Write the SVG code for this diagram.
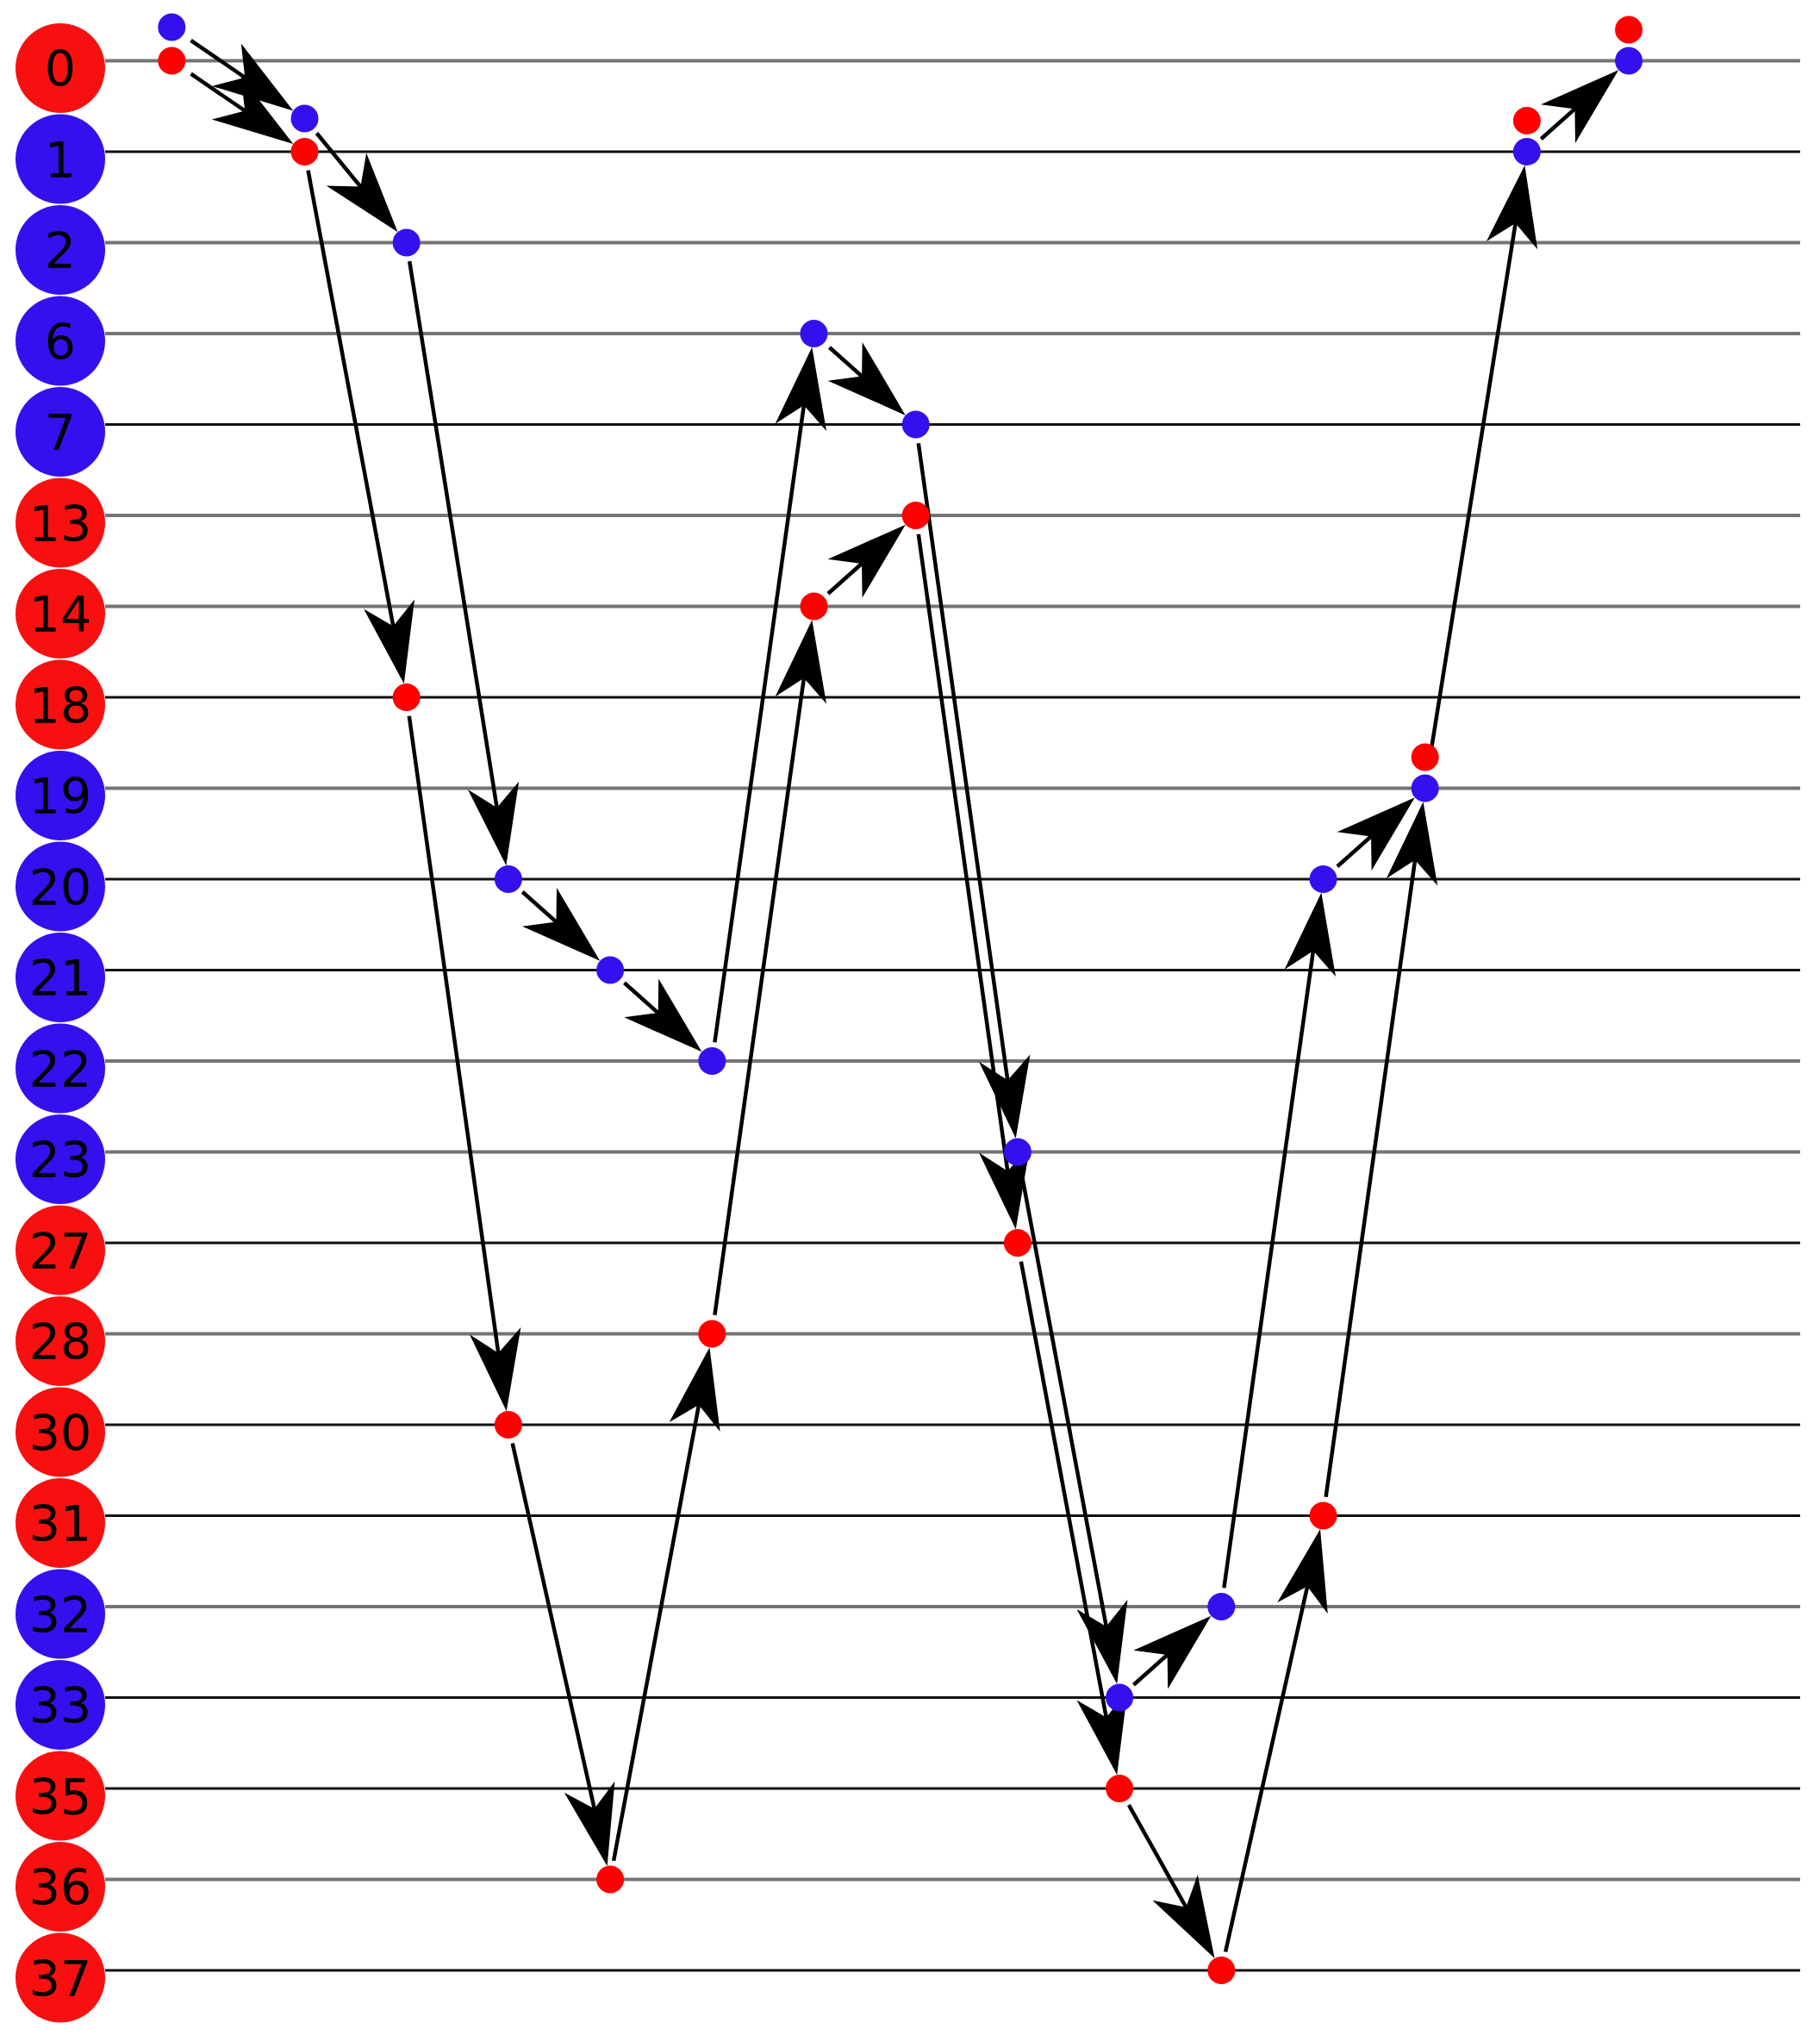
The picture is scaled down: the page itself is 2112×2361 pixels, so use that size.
<svg xmlns="http://www.w3.org/2000/svg" width="2112" height="2361" viewBox="0 0 2112 2361">
<style>
.bg{fill:#fff}
.rl{fill:none}
.g{stroke:#747474;stroke-width:4}
.k{stroke:#111;stroke-width:3}
.lr{fill:#f81010}
.lb{fill:#3510ee}
.lt{font-family:"DejaVu Sans","Liberation Sans",sans-serif;font-size:57px;fill:#000;text-anchor:middle}
.db{fill:#3311ee}
.dr{fill:#ff0000}
.c{stroke:#000;stroke-width:4.5;fill:none;marker-end:url(#ah)}
</style>
<defs>
<marker id="ah" markerUnits="userSpaceOnUse" viewBox="-75 -32 104 64" markerWidth="104" markerHeight="64" refX="0" refY="0" orient="auto">
<path d="M24,0 L-70,-30 L-44,0 L-70,30 Z" fill="#000"/>
</marker>
</defs>
<rect class="bg" x="0" y="0" width="2112" height="2361"/>
<g id="rows">
<line class="rl g" x1="122" y1="70.5" x2="2089" y2="70.5"/>
<line class="rl k" x1="122" y1="176" x2="2089" y2="176"/>
<line class="rl g" x1="122" y1="281.5" x2="2089" y2="281.5"/>
<line class="rl g" x1="122" y1="387" x2="2089" y2="387"/>
<line class="rl k" x1="122" y1="492.5" x2="2089" y2="492.5"/>
<line class="rl g" x1="122" y1="598" x2="2089" y2="598"/>
<line class="rl g" x1="122" y1="703.5" x2="2089" y2="703.5"/>
<line class="rl k" x1="122" y1="809" x2="2089" y2="809"/>
<line class="rl g" x1="122" y1="914.5" x2="2089" y2="914.5"/>
<line class="rl k" x1="122" y1="1020" x2="2089" y2="1020"/>
<line class="rl k" x1="122" y1="1125.5" x2="2089" y2="1125.5"/>
<line class="rl g" x1="122" y1="1231" x2="2089" y2="1231"/>
<line class="rl g" x1="122" y1="1336.5" x2="2089" y2="1336.5"/>
<line class="rl k" x1="122" y1="1442" x2="2089" y2="1442"/>
<line class="rl g" x1="122" y1="1547.5" x2="2089" y2="1547.5"/>
<line class="rl k" x1="122" y1="1653" x2="2089" y2="1653"/>
<line class="rl k" x1="122" y1="1758.5" x2="2089" y2="1758.5"/>
<line class="rl g" x1="122" y1="1864" x2="2089" y2="1864"/>
<line class="rl k" x1="122" y1="1969.5" x2="2089" y2="1969.5"/>
<line class="rl k" x1="122" y1="2075" x2="2089" y2="2075"/>
<line class="rl g" x1="122" y1="2180.5" x2="2089" y2="2180.5"/>
<line class="rl k" x1="122" y1="2286" x2="2089" y2="2286"/>
</g>
<g id="labels">
<g id="label-0"><circle class="lr" cx="70" cy="79" r="52"/><text class="lt" x="70" y="100">0</text></g>
<g id="label-1"><circle class="lb" cx="70" cy="184.5" r="52"/><text class="lt" x="70" y="205.5">1</text></g>
<g id="label-2"><circle class="lb" cx="70" cy="290" r="52"/><text class="lt" x="70" y="311">2</text></g>
<g id="label-6"><circle class="lb" cx="70" cy="395.5" r="52"/><text class="lt" x="70" y="416.5">6</text></g>
<g id="label-7"><circle class="lb" cx="70" cy="501" r="52"/><text class="lt" x="70" y="522">7</text></g>
<g id="label-13"><circle class="lr" cx="70" cy="606.5" r="52"/><text class="lt" x="70" y="627.5">13</text></g>
<g id="label-14"><circle class="lr" cx="70" cy="712" r="52"/><text class="lt" x="70" y="733">14</text></g>
<g id="label-18"><circle class="lr" cx="70" cy="817.5" r="52"/><text class="lt" x="70" y="838.5">18</text></g>
<g id="label-19"><circle class="lb" cx="70" cy="923" r="52"/><text class="lt" x="70" y="944">19</text></g>
<g id="label-20"><circle class="lb" cx="70" cy="1028.5" r="52"/><text class="lt" x="70" y="1049.5">20</text></g>
<g id="label-21"><circle class="lb" cx="70" cy="1134" r="52"/><text class="lt" x="70" y="1155">21</text></g>
<g id="label-22"><circle class="lb" cx="70" cy="1239.5" r="52"/><text class="lt" x="70" y="1260.5">22</text></g>
<g id="label-23"><circle class="lb" cx="70" cy="1345" r="52"/><text class="lt" x="70" y="1366">23</text></g>
<g id="label-27"><circle class="lr" cx="70" cy="1450.5" r="52"/><text class="lt" x="70" y="1471.5">27</text></g>
<g id="label-28"><circle class="lr" cx="70" cy="1556" r="52"/><text class="lt" x="70" y="1577">28</text></g>
<g id="label-30"><circle class="lr" cx="70" cy="1661.5" r="52"/><text class="lt" x="70" y="1682.5">30</text></g>
<g id="label-31"><circle class="lr" cx="70" cy="1767" r="52"/><text class="lt" x="70" y="1788">31</text></g>
<g id="label-32"><circle class="lb" cx="70" cy="1872.5" r="52"/><text class="lt" x="70" y="1893.5">32</text></g>
<g id="label-33"><circle class="lb" cx="70" cy="1978" r="52"/><text class="lt" x="70" y="1999">33</text></g>
<g id="label-35"><circle class="lr" cx="70" cy="2083.5" r="52"/><text class="lt" x="70" y="2104.5">35</text></g>
<g id="label-36"><circle class="lr" cx="70" cy="2189" r="52"/><text class="lt" x="70" y="2210">36</text></g>
<g id="label-37"><circle class="lr" cx="70" cy="2294.5" r="52"/><text class="lt" x="70" y="2315.5">37</text></g>
</g>
<g id="connectors">
<line class="c" x1="221.5" y1="46.8" x2="320.5" y2="114.8"/>
<line class="c" x1="367.5" y1="154.5" x2="446.3" y2="250.6"/>
<line class="c" x1="475.2" y1="303.2" x2="583.6" y2="980.5"/>
<line class="c" x1="606.3" y1="1034.7" x2="678.3" y2="1098.9"/>
<line class="c" x1="724.5" y1="1140.2" x2="796.5" y2="1204.4"/>
<line class="c" x1="829.4" y1="1209.2" x2="939.0" y2="426.6"/>
<line class="c" x1="962.5" y1="403.0" x2="1032.9" y2="465.9"/>
<line class="c" x1="1065.8" y1="514.3" x2="1175.4" y2="1296.9"/>
<line class="c" x1="1184.9" y1="1358.1" x2="1291.8" y2="1930.2"/>
<line class="c" x1="1315.5" y1="1954.8" x2="1387.5" y2="1890.6"/>
<line class="c" x1="1420.4" y1="1842.2" x2="1530.0" y2="1059.6"/>
<line class="c" x1="1551.9" y1="1005.3" x2="1623.9" y2="941.1"/>
<line class="c" x1="1657.2" y1="892.8" x2="1765.6" y2="215.5"/>
<line class="c" x1="1788.3" y1="161.3" x2="1860.3" y2="97.1"/>
<line class="c" x1="221.6" y1="85.7" x2="320.5" y2="153.4"/>
<line class="c" x1="357.5" y1="197.6" x2="464.4" y2="769.7"/>
<line class="c" x1="474.8" y1="830.8" x2="584.4" y2="1613.4"/>
<line class="c" x1="594.7" y1="1674.5" x2="699.4" y2="2141.5"/>
<line class="c" x1="712.1" y1="2158.9" x2="819.0" y2="1586.8"/>
<line class="c" x1="829.4" y1="1525.7" x2="939.0" y2="743.1"/>
<line class="c" x1="960.9" y1="688.8" x2="1032.9" y2="624.6"/>
<line class="c" x1="1065.8" y1="619.8" x2="1175.4" y2="1402.4"/>
<line class="c" x1="1184.9" y1="1463.6" x2="1291.8" y2="2035.7"/>
<line class="c" x1="1309.9" y1="2094.2" x2="1397.8" y2="2251.1"/>
<line class="c" x1="1422.1" y1="2264.5" x2="1526.8" y2="1797.5"/>
<line class="c" x1="1538.6" y1="1736.7" x2="1648.2" y2="954.1"/>
</g>
<g id="dots">
<g id="b0"><circle class="db" cx="199.3" cy="31.5" r="16"/></g>
<g id="b1"><circle class="db" cx="353.5" cy="137.5" r="16"/></g>
<g id="b2"><circle class="db" cx="471.7" cy="281.5" r="16"/></g>
<g id="b3"><circle class="db" cx="589.9" cy="1020" r="16"/></g>
<g id="b4"><circle class="db" cx="708.1" cy="1125.5" r="16"/></g>
<g id="b5"><circle class="db" cx="826.3" cy="1231" r="16"/></g>
<g id="b6"><circle class="db" cx="944.5" cy="387" r="16"/></g>
<g id="b7"><circle class="db" cx="1062.7" cy="492.5" r="16"/></g>
<g id="b8"><circle class="db" cx="1180.9" cy="1336.5" r="16"/></g>
<g id="b9"><circle class="db" cx="1299.1" cy="1969.5" r="16"/></g>
<g id="b10"><circle class="db" cx="1417.3" cy="1864" r="16"/></g>
<g id="b11"><circle class="db" cx="1535.5" cy="1020" r="16"/></g>
<g id="b12"><circle class="db" cx="1653.7" cy="914.5" r="16"/></g>
<g id="b13"><circle class="db" cx="1771.9" cy="176" r="16"/></g>
<g id="b14"><circle class="db" cx="1890.1" cy="70.5" r="16"/></g>
<g id="r0"><circle class="dr" cx="199.3" cy="70.5" r="16"/></g>
<g id="r1"><circle class="dr" cx="353.5" cy="176" r="16"/></g>
<g id="r2"><circle class="dr" cx="471.7" cy="809" r="16"/></g>
<g id="r3"><circle class="dr" cx="589.9" cy="1653" r="16"/></g>
<g id="r4"><circle class="dr" cx="708.1" cy="2180.5" r="16"/></g>
<g id="r5"><circle class="dr" cx="826.3" cy="1547.5" r="16"/></g>
<g id="r6"><circle class="dr" cx="944.5" cy="703.5" r="16"/></g>
<g id="r7"><circle class="dr" cx="1062.7" cy="598" r="16"/></g>
<g id="r8"><circle class="dr" cx="1180.9" cy="1442" r="16"/></g>
<g id="r9"><circle class="dr" cx="1299.1" cy="2075" r="16"/></g>
<g id="r10"><circle class="dr" cx="1417.3" cy="2286" r="16"/></g>
<g id="r11"><circle class="dr" cx="1535.5" cy="1758.5" r="16"/></g>
<g id="r12"><circle class="dr" cx="1653.7" cy="878.5" r="16"/></g>
<g id="r13"><circle class="dr" cx="1771.9" cy="140" r="16"/></g>
<g id="r14"><circle class="dr" cx="1890.1" cy="34.5" r="16"/></g>
</g>
</svg>
